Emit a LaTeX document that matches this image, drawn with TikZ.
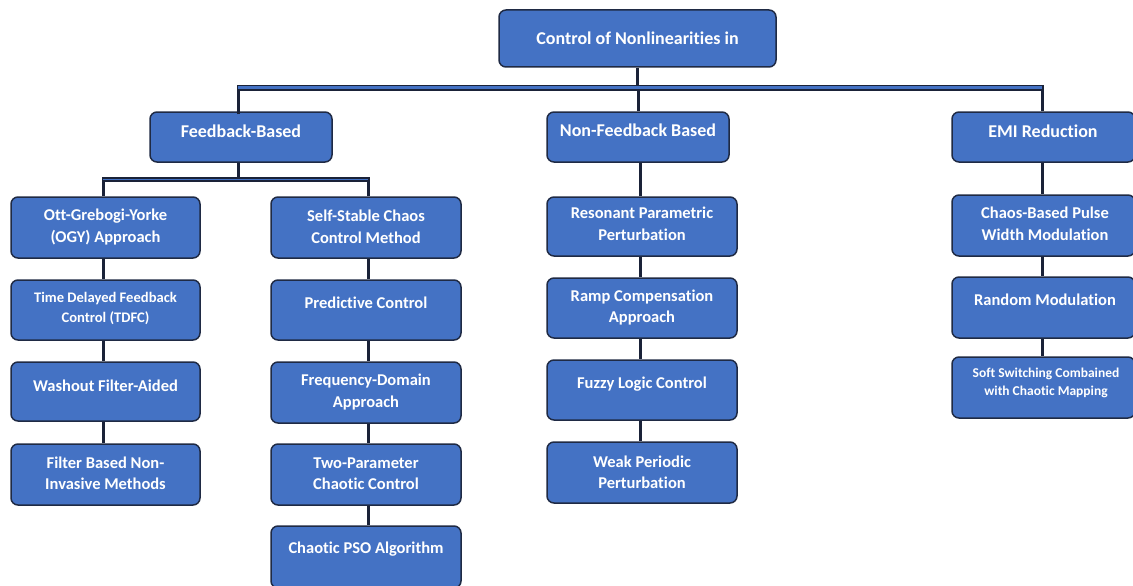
\documentclass[tikz,border=0pt]{standalone}
\usepackage{fontspec}
\setmainfont{Carlito}[Ligatures={NoCommon}]
\definecolor{boxblue}{HTML}{4472C4}
\definecolor{edge}{HTML}{1F2A44}
\definecolor{wire}{HTML}{1A2238}
\begin{document}
\begin{tikzpicture}[x=1pt,y=-1pt,
  box/.style={draw=edge,fill=boxblue,line width=1.5pt,rounded corners=7pt,inner sep=0pt},
  txt/.style={text=white,font=\bfseries\fontsize{16.5}{21.5}\selectfont,align=center,inner sep=0pt},
  bigtxt/.style={txt,font=\bfseries\fontsize{18}{22}\selectfont},
  conn/.style={draw=wire,line width=3pt},
  bus/.style={draw=wire,line width=1.6pt,double=boxblue,double distance=3pt},
  subbus/.style={draw=wire,line width=1.6pt,double=boxblue,double distance=1.8pt}]
\useasboundingbox (0,0) rectangle (1133,586);
% coordinates for the bars
\coordinate (bar) at (640,88);
\coordinate (sbar) at (238,179.5);
% ---------- boxes ----------
\node[box,minimum width=277pt,minimum height=57pt] (root) at (637.5,38.5) {};
\node[box,minimum width=182pt,minimum height=50pt] (fb) at (241,137) {};
\node[box,minimum width=182pt,minimum height=50pt] (nfb) at (638,137) {};
\node[box,minimum width=183pt,minimum height=50pt] (emi) at (1043.5,137) {};
% column 1
\node[box,minimum width=189pt,minimum height=61pt] (ogy) at (105.5,227.5) {};
\node[box,minimum width=189pt,minimum height=60pt] (tdfc) at (105.5,310) {};
\node[box,minimum width=189pt,minimum height=59pt] (wash) at (105.5,391.5) {};
\node[box,minimum width=189pt,minimum height=61pt] (filt) at (105.5,474.5) {};
% column 2
\node[box,minimum width=190pt,minimum height=61pt] (ss) at (366,227.5) {};
\node[box,minimum width=190pt,minimum height=60pt] (pred) at (366,310) {};
\node[box,minimum width=190pt,minimum height=61pt] (freq) at (366,392.5) {};
\node[box,minimum width=190pt,minimum height=61pt] (two) at (366,474.5) {};
\node[box,minimum width=190pt,minimum height=62pt] (pso) at (366,557) {};
% column 3
\node[box,minimum width=190pt,minimum height=59pt] (res) at (642,226.5) {};
\node[box,minimum width=190pt,minimum height=60pt] (ramp) at (642,308) {};
\node[box,minimum width=190pt,minimum height=60pt] (fuzzy) at (642,390) {};
\node[box,minimum width=190pt,minimum height=61pt] (weak) at (642,472.5) {};
% column 4
\node[box,minimum width=183pt,minimum height=61pt] (cpwm) at (1043.5,225.5) {};
\node[box,minimum width=183pt,minimum height=61pt] (rand) at (1043.5,307.5) {};
\node[box,minimum width=183pt,minimum height=61pt] (soft) at (1043.5,387.5) {};
% ---------- texts ----------
\node[bigtxt] (rootT) at (637.5,38.5) {Control of Nonlinearities in};
\node[bigtxt] (fbT) at (241,131) {Feedback-Based};
\node[bigtxt] (nfbT) at (638,130) {Non-Feedback Based};
\node[bigtxt] (emiT) at (1043,131) {EMI Reduction};
\node[txt] (ogyT) at (105.5,227) {Ott-Grebogi-Yorke\\(OGY) Approach};
\node[txt,font=\bfseries\fontsize{14.6}{20}\selectfont] (tdfcT) at (105.5,308) {Time Delayed Feedback\\Control (TDFC)};
\node[txt] (washT) at (105.5,386) {Washout Filter-Aided};
\node[txt] (filtT) at (105.5,473.5) {Filter Based Non-\\Invasive Methods};
\node[txt] (ssT) at (366,227) {Self-Stable Chaos\\Control Method};
\node[txt] (predT) at (366,303) {Predictive Control};
\node[txt] (freqT) at (366,392) {Frequency-Domain\\Approach};
\node[txt] (twoT) at (366,473.5) {Two-Parameter\\Chaotic Control};
\node[txt] (psoT) at (366,549) {Chaotic PSO Algorithm};
\node[txt] (resT) at (642,224) {Resonant Parametric\\Perturbation};
\node[txt] (rampT) at (642,307.5) {Ramp Compensation\\Approach};
\node[txt] (fuzzyT) at (642,384) {Fuzzy Logic Control};
\node[txt] (weakT) at (642,472.5) {Weak Periodic\\Perturbation};
\node[txt] (cpwmT) at (1045,224) {Chaos-Based Pulse\\Width Modulation};
\node[txt] (randT) at (1045,300) {Random Modulation};
\node[txt,font=\bfseries\fontsize{13.5}{18}\selectfont] (softT) at (1046,383) {Soft Switching Combained\\with Chaotic Mapping};
% ---------- connectors ----------
\draw[conn] (root.south) -- (root.south |- bar);
\draw[conn] ([yshift=-3pt]fb.north -| 238,0) coordinate (fbtop) -- (fbtop |- 0,85);
\draw[conn] (nfb.north) -- (nfb.north |- 0,85);
\draw[conn] (emi.north -| 1042,0) coordinate (emitop) -- (emitop |- 0,85);
\draw[bus] (238,88) -- (1042,88);
% feedback sub tree
\draw[conn] (fb.south -| sbar) -- (sbar);
\draw[conn] (ogy.north -| 103,0) coordinate (ogytop) -- (ogytop |- 0,177);
\draw[conn] (ss.north -| 368,0) coordinate (sstop) -- (sstop |- 0,177);
\draw[subbus] (103,179.5) -- (368,179.5);
% column chains
\draw[conn] (ogy.south -| 103,0) -- (tdfc.north -| 103,0);
\draw[conn] (tdfc.south -| 103,0) -- (wash.north -| 103,0);
\draw[conn] (wash.south -| 103,0) -- (filt.north -| 103,0);
\draw[conn] (ss.south -| 368,0) -- (pred.north -| 368,0);
\draw[conn] (pred.south -| 368,0) -- (freq.north -| 368,0);
\draw[conn] (freq.south -| 368,0) -- (two.north -| 368,0);
\draw[conn] (two.south -| 368,0) -- (pso.north -| 368,0);
\draw[conn] (nfb.south -| 640,0) -- (res.north -| 640,0);
\draw[conn] (res.south -| 640,0) -- (ramp.north -| 640,0);
\draw[conn] (ramp.south -| 640,0) -- (fuzzy.north -| 640,0);
\draw[conn] (fuzzy.south -| 640,0) -- (weak.north -| 640,0);
\draw[conn] (emi.south -| 1042,0) -- (cpwm.north -| 1042,0);
\draw[conn] (cpwm.south -| 1042,0) -- (rand.north -| 1042,0);
\draw[conn] (rand.south -| 1042,0) -- (soft.north -| 1042,0);
\end{tikzpicture}
\end{document}
